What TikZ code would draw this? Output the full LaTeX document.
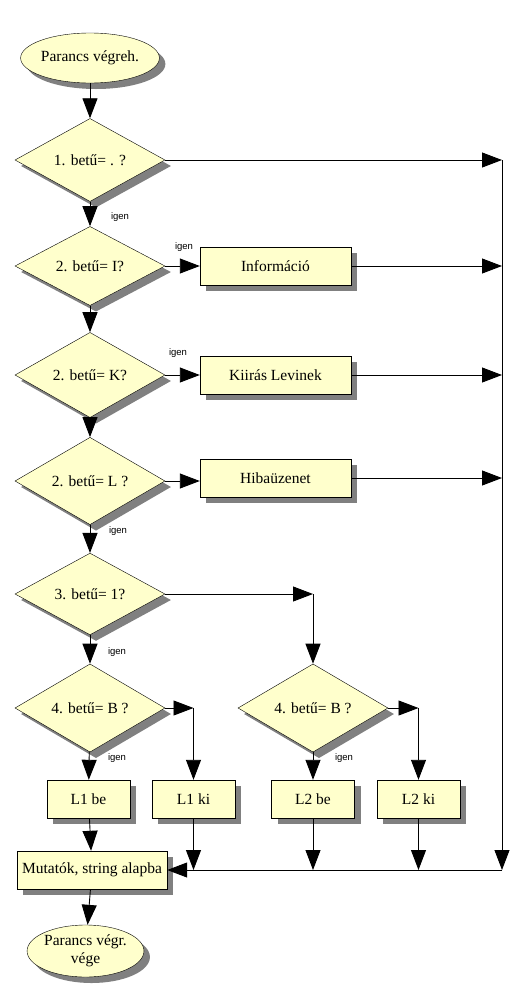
\documentclass[tikz,border=0pt]{standalone}
\usepackage{fontspec}
\setmainfont{Liberation Serif}
\newfontfamily\igenfont{Liberation Sans}
\usetikzlibrary{shapes.geometric,shadows,arrows.meta}
\definecolor{lapfill}{HTML}{FFFFCC}
\newcommand{\mainx}{90}
\newcommand{\rightx}{502}
\newcommand{\boxx}{275.5}
\newcommand{\boxwidth}{151pt}
\newcommand{\smallboxwidth}{83pt}
\newcommand{\boxheight}{38pt}

\begin{document}
\begin{tikzpicture}[x=1pt,y=-1pt,font=\fontsize{15.5}{18}\selectfont]
\tikzstyle{shade}=[drop shadow={shadow xshift=6pt,shadow yshift=-6pt,fill=gray,opacity=1}]
\tikzstyle{term}=[ellipse,draw,fill=lapfill,shade,minimum width=115pt,minimum height=50pt,inner sep=0pt,align=center]
\tikzstyle{decide}=[diamond,draw,fill=lapfill,shade,minimum width=150pt,minimum height=75pt,inner sep=0pt]
\tikzstyle{proc}=[rectangle,draw,fill=lapfill,shade,minimum width=\boxwidth,minimum height=\boxheight,inner sep=2pt]
\tikzstyle{flow}=[line width=0.9pt,-{Triangle[length=20pt,width=15pt]}]
\tikzstyle{wire}=[line width=0.9pt]
\tikzstyle{yes}=[font=\igenfont\fontsize{9.5}{11}\selectfont]

\useasboundingbox (0,0) rectangle (527,1002);

\node (start) [term] at (\mainx,58) {Parancs végreh.};
\node (d1) [decide] at (\mainx,160) {1. betű= . ?};
\node (d2) [decide] at (\mainx,266) {2. betű= I?};
\node (info) [proc] at (\boxx,266) {Információ};
\node (d3) [decide] at (\mainx,375) {2. betű= K?};
\node (kiir) [proc] at (\boxx,375) {Kiirás Levinek};
\node (d4) [decide] at (\mainx,481) {2. betű= L ?};
\node (hiba) [proc] at (\boxx,478) {Hibaüzenet};
\node (d5) [decide] at (\mainx,594) {3. betű= 1?};
\node (d6) [decide] at (\mainx,708) {4. betű= B ?};
\node (d7) [decide] at (313,708) {4. betű= B ?};

\node (l1be) [proc,minimum width=\smallboxwidth] at (88.5,799) {L1 be};
\node (l1ki) [proc,minimum width=\smallboxwidth] at (193.5,799) {L1 ki};
\node (l2be) [proc,minimum width=\smallboxwidth] at (313,799) {L2 be};
\node (l2ki) [proc,minimum width=\smallboxwidth] at (418.5,799) {L2 ki};

\node (mut) [proc,minimum width=150pt] at (92,870) {Mutatók, string alapba};
\node (stop) [term,minimum width=113pt,minimum height=52pt] at (85.5,951) {Parancs végr.\\vége};

% the right hand collecting line
\coordinate (rtop) at (\rightx,160);
\coordinate (rbot) at (\rightx,870);

\draw[flow] (start) -- (d1);
\draw[flow] (d1) -- (d2);
\draw[flow] (d2) -- (d3);
\draw[flow] (d3) -- (d4);
\draw[flow] (d4) -- (d5);
\draw[flow] (d5) -- (d6);
\draw[flow] (d6) -- (l1be);
\draw[flow] (d7) -- (l2be);
\draw[flow] (l1be) -- (mut);
\draw[flow] (mut) -- (stop);

\draw[flow] (d2.east) -- (info.west);
\draw[flow] (d3.east) -- (kiir.west);
\draw[flow] (d4.east) -- (d4.east -| hiba.west);

\draw[flow] (d1.east) -- (rtop);
\draw[flow] (info.east) -- (info.east -| rtop);
\draw[flow] (kiir.east) -- (kiir.east -| rtop);
\draw[flow] (hiba.east) -- (hiba.east -| rtop);
\draw[flow] (rtop) -- (rbot);

\draw[flow] (d5.east) -- (d5.east -| d7.north);
\draw[flow] (d5.east -| d7.north) -- (d7.north);
\draw[flow] (d6.east) -- (d6.east -| l1ki.north);
\draw[flow] (d6.east -| l1ki.north) -- (l1ki.north);
\draw[flow] (d7.east) -- (d7.east -| l2ki.north);
\draw[flow] (d7.east -| l2ki.north) -- (l2ki.north);

\draw[flow] (l1ki.south) -- (l1ki.south |- rbot);
\draw[flow] (l2be.south) -- (l2be.south |- rbot);
\draw[flow] (l2ki.south) -- (l2ki.south |- rbot);
\draw[wire] (rbot) -- (l1ki.south |- rbot);
\draw[flow] (l1ki.south |- rbot) -- (mut.east);

\node[yes] at (120,217) {igen};
\node[yes] at (184,247) {igen};
\node[yes] at (178,353) {igen};
\node[yes] at (118,531) {igen};
\node[yes] at (117,652) {igen};
\node[yes] at (117,758) {igen};
\node[yes] at (344,758) {igen};

\end{tikzpicture}
\end{document}
